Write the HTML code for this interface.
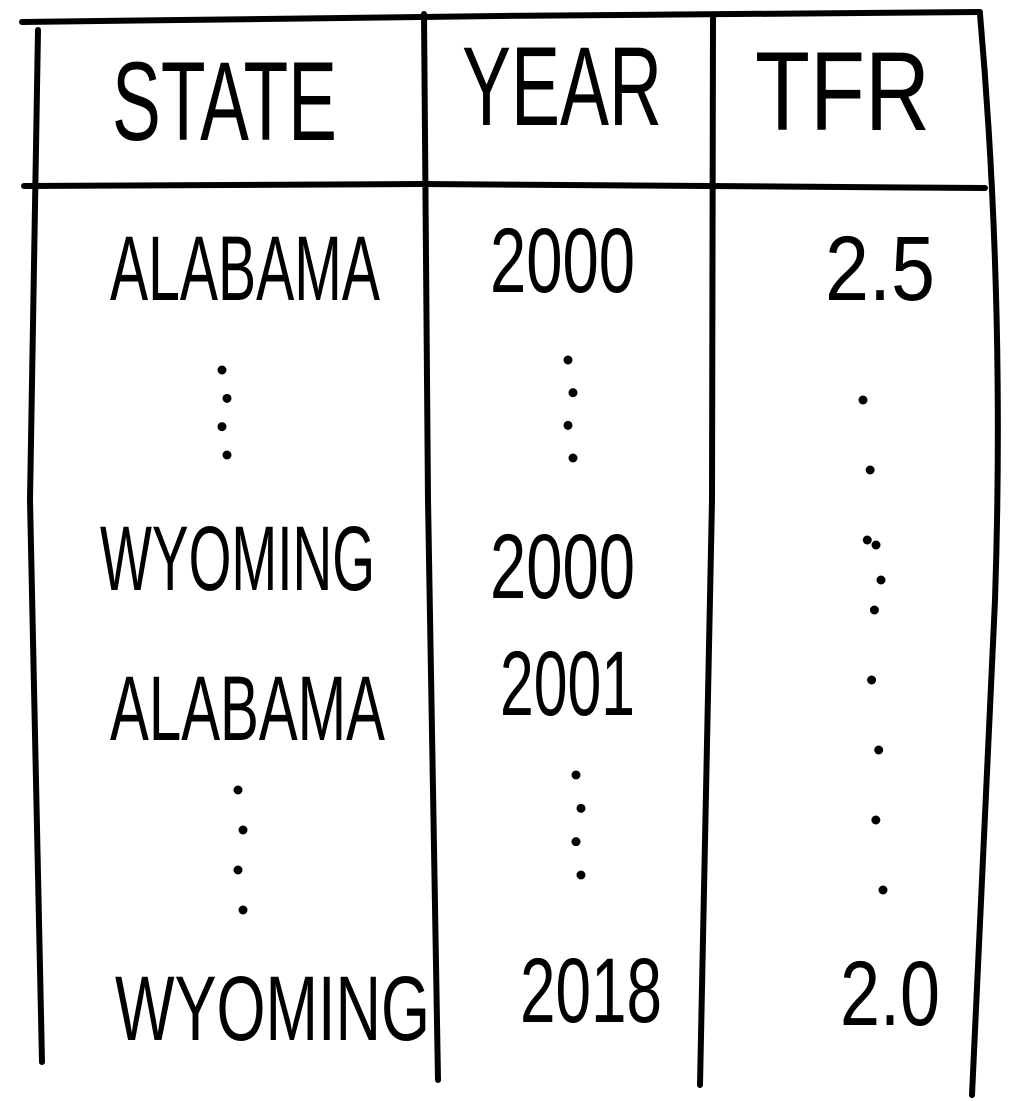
<!DOCTYPE html>
<html><head><meta charset="utf-8"><style>
html,body{margin:0;padding:0;background:#fff;}
svg{display:block;}
text{font-family:"Liberation Sans",sans-serif;fill:#000;}
</style></head><body>
<svg width="1024" height="1101" viewBox="0 0 1024 1101">
<g stroke="#000" stroke-width="6" stroke-linecap="round" fill="none">
<path d="M22 22 L500 16 L980 12"/>
<path d="M24 186 L420 184 L985 188"/>
<path d="M38 30 L30 500 L42 1062"/>
<path d="M424 14 L428 500 L438 1080"/>
<path d="M713 18 L712 500 L700 1085"/>
<path d="M980 14 Q1005 300 995 600 L972 1095"/>
</g>
<g font-size="112">
<text x="112" y="140" textLength="225" lengthAdjust="spacingAndGlyphs">STATE</text>
<text x="462" y="125" textLength="200" lengthAdjust="spacingAndGlyphs">YEAR</text>
<text x="755" y="130" textLength="175" lengthAdjust="spacingAndGlyphs">TFR</text>
</g>
<g font-size="92">
<text x="110" y="300" textLength="270" lengthAdjust="spacingAndGlyphs">ALABAMA</text>
<text x="490" y="292" textLength="145" lengthAdjust="spacingAndGlyphs">2000</text>
<text x="825" y="300" textLength="110" lengthAdjust="spacingAndGlyphs">2.5</text>
<text x="100" y="590" textLength="275" lengthAdjust="spacingAndGlyphs">WYOMING</text>
<text x="490" y="598" textLength="145" lengthAdjust="spacingAndGlyphs">2000</text>
<text x="110" y="740" textLength="275" lengthAdjust="spacingAndGlyphs">ALABAMA</text>
<text x="500" y="715" textLength="135" lengthAdjust="spacingAndGlyphs">2001</text>
<text x="115" y="1040" textLength="315" lengthAdjust="spacingAndGlyphs">WYOMING</text>
<text x="520" y="1022" textLength="142" lengthAdjust="spacingAndGlyphs">2018</text>
<text x="840" y="1025" textLength="100" lengthAdjust="spacingAndGlyphs">2.0</text>
</g>
<g fill="#000" id="dots"></g>
</svg>
<script>
var g=document.getElementById('dots');
var cols=[[224,370,455,4],[570,360,458,4],[865,400,890,8],[878,545,580,2],[240,790,910,4],[578,775,875,4]];
cols.forEach(function(c){
  for(var i=0;i<c[3];i++){
    var d=document.createElementNS('http://www.w3.org/2000/svg','circle');
    
    
    var t=c[3]>1?i/(c[3]-1):0;
    d.setAttribute('cx',c[0]+(i%2?3:-2)+(c[0]===865?t*15:0));
    d.setAttribute('cy',c[1]+t*(c[2]-c[1]));
    d.setAttribute('r',4.5);
    g.appendChild(d);
  }
});
</script>
</body></html>
